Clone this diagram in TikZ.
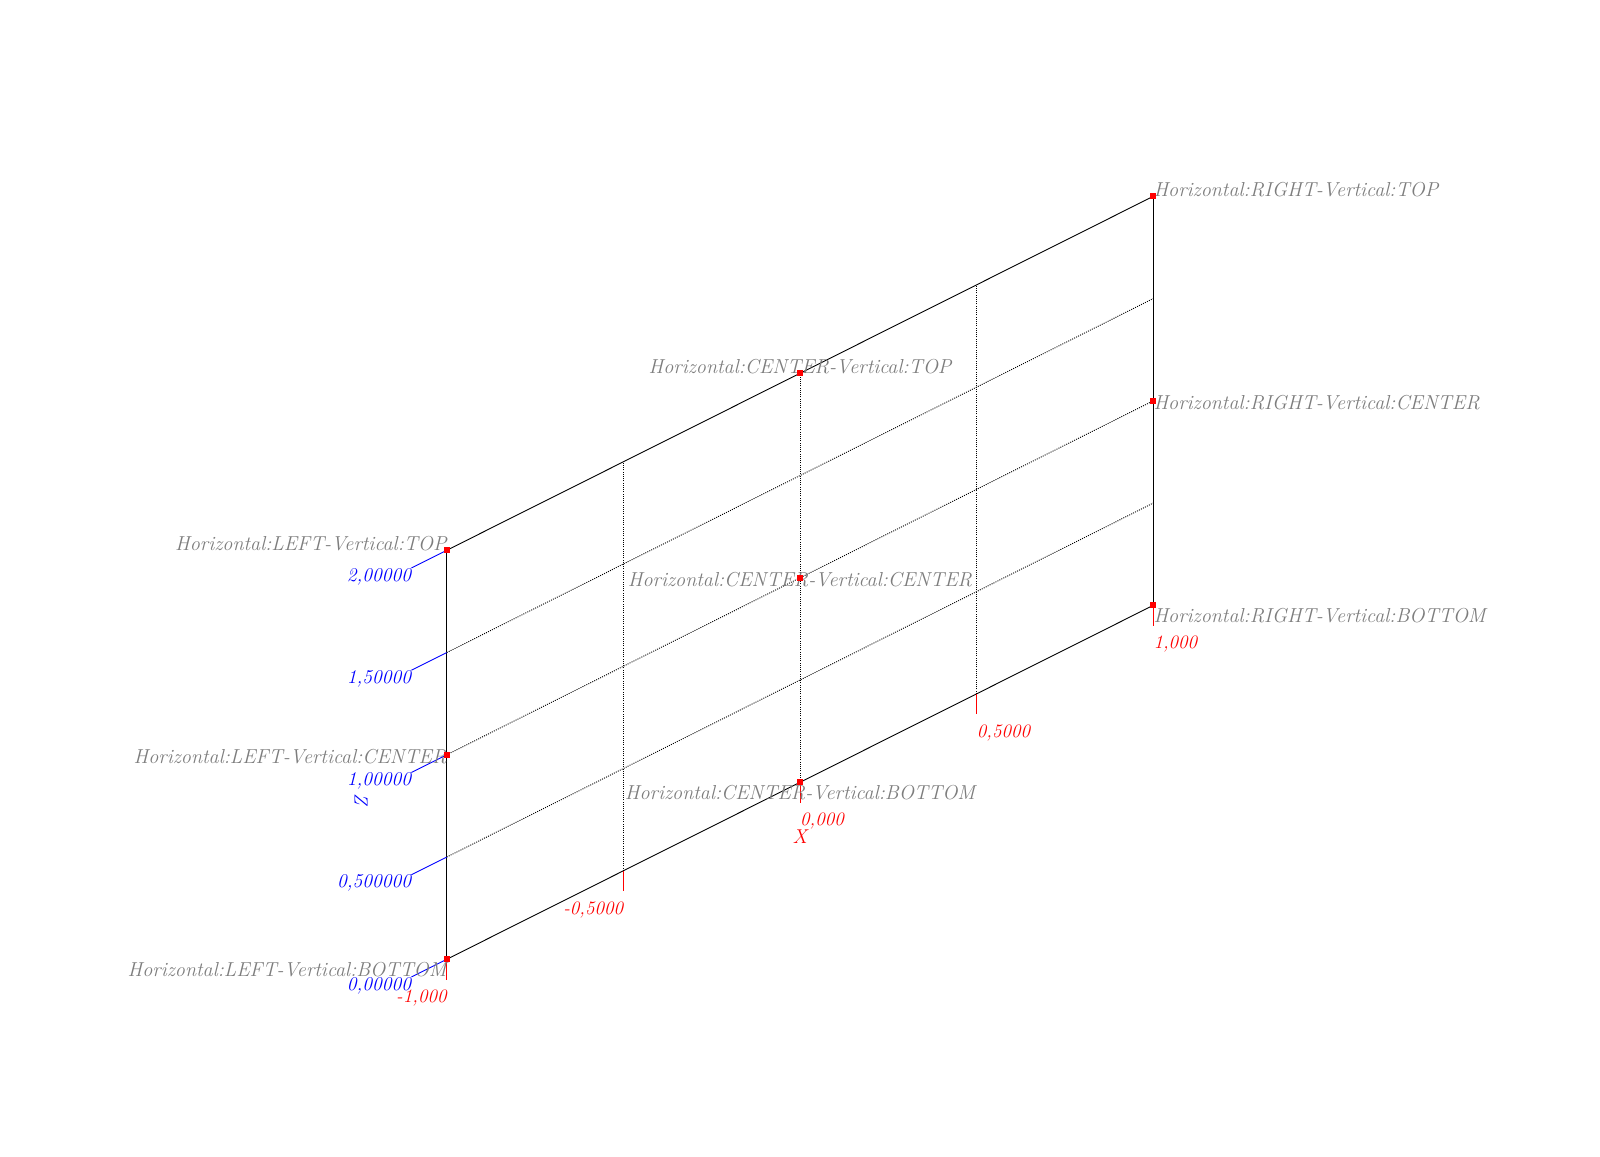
\documentclass[tikz,border=0pt]{standalone}
\usetikzlibrary{calc}
\definecolor{lblgray}{RGB}{125,125,125}
\tikzset{
  frame/.style={draw=black, line width=0.9pt},
  inner/.style={draw=black, line width=0.9pt, dash pattern=on 1pt off 1.2pt},
  ztick/.style={draw=blue, line width=0.9pt},
  xtick/.style={draw=red, line width=0.9pt},
  zlbl/.style={text=blue, inner sep=0pt, anchor=north east, font=\fontsize{19.5}{19.5}\selectfont\itshape},
  xlbl/.style={text=red, inner sep=0pt, font=\fontsize{19}{19}\selectfont\itshape},
  glbl/.style={text=lblgray, inner sep=0pt, font=\fontsize{20.2}{20.2}\selectfont\itshape},
  pt/.style={fill=red, draw=none, minimum size=6pt, inner sep=0pt, rectangle}
}
\begin{document}
\begin{tikzpicture}[x=1pt,y=-1pt]
\useasboundingbox (0,0) rectangle (1600,1156);
% grid points p<i><j>: i along X (-1..1), j along Z (0..2)
\foreach \i/\u in {0/-1,1/-0.5,2/0,3/0.5,4/1}{
  \foreach \j/\v in {0/0,1/0.5,2/1,3/1.5,4/2}{
    \coordinate (p\i\j) at ({800+353.3*\u},{782.3-177*\u-204.5*\v});
  }
}
% interior dotted lines
\foreach \i in {1,2,3}{ \draw[inner] (p\i0) -- (p\i4); }
\foreach \j in {1,2,3}{ \draw[inner] (p0\j) -- (p4\j); }
% frame
\draw[frame] (p00) -- (p40);
\draw[frame] (p04) -- (p44);
\draw[frame] (p00) -- (p04);
\draw[frame] (p40) -- (p44);
% Z ticks
\foreach \j in {0,...,4}{ \coordinate (zt\j) at ($(p0\j)+(-35.3,17.7)$); \draw[ztick] (p0\j) -- (zt\j); }
\node[zlbl] (zl0) at (zt0) {0,00000};
\node[zlbl] (zl1) at (zt1) {0,500000};
\node[zlbl] (zl2) at (zt2) {1,00000};
\node[zlbl] (zl3) at (zt3) {1,50000};
\node[zlbl] (zl4) at (zt4) {2,00000};
\node[text=blue, inner sep=0pt, rotate=-90, font=\fontsize{19}{19}\selectfont\itshape] (zname) at (361,799) {Z};
% X ticks
\foreach \i in {0,...,4}{ \coordinate (xt\i) at ($(p\i0)+(0,20.4)$); \draw[xtick] (p\i0) -- (xt\i); }
\node[xlbl, anchor=north east] (xl0) at ($(xt0)+(0,10)$) {-1,000};
\node[xlbl, anchor=north east] (xl1) at ($(xt1)+(0,10)$) {-0,5000};
\node[xlbl, anchor=north west] (xl2) at ($(xt2)+(0,10)$) {0,000};
\node[xlbl, anchor=north west] (xl3) at ($(xt3)+(0,10)$) {0,5000};
\node[xlbl, anchor=north west] (xl4) at ($(xt4)+(0,10)$) {1,000};
\node[text=red, inner sep=0pt, font=\fontsize{20}{20}\selectfont\itshape] (xname) at (800,837) {X};
% gray labels
\node[glbl, anchor=north east] (l00) at ($(p00)+(0,3)$) {Horizontal:LEFT-Vertical:BOTTOM};
\node[glbl, anchor=east] (l02) at ($(p02)+(0,2)$) {Horizontal:LEFT-Vertical:CENTER};
\node[glbl, anchor=base east] (l04) at (p04) {Horizontal:LEFT-Vertical:TOP};
\node[glbl, anchor=north] (l20) at ($(p20)+(0,3)$) {Horizontal:CENTER-Vertical:BOTTOM};
\node[glbl, anchor=center] (l22) at ($(p22)+(0,2)$) {Horizontal:CENTER-Vertical:CENTER};
\node[glbl, anchor=base] (l24) at (p24) {Horizontal:CENTER-Vertical:TOP};
\node[glbl, anchor=north west] (l40) at ($(p40)+(0,3)$) {Horizontal:RIGHT-Vertical:BOTTOM};
\node[glbl, anchor=west] (l42) at ($(p42)+(0,2)$) {Horizontal:RIGHT-Vertical:CENTER};
\node[glbl, anchor=base west] (l44) at (p44) {Horizontal:RIGHT-Vertical:TOP};
% red points
\foreach \i in {0,2,4}{ \foreach \j in {0,2,4}{ \node[pt] (d\i\j) at (p\i\j) {}; } }
\end{tikzpicture}
\end{document}
